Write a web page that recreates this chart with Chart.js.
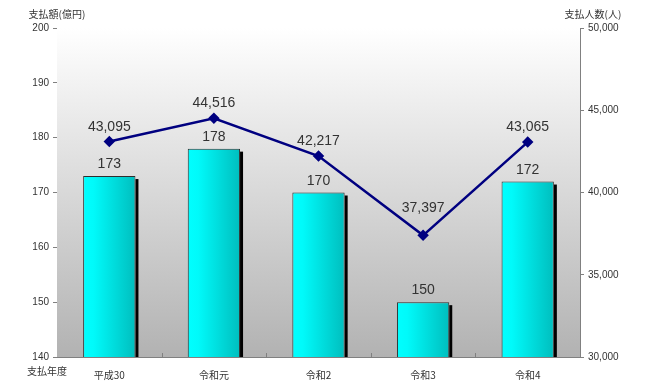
<!DOCTYPE html>
<html><head><meta charset="utf-8">
<script src="https://cdn.jsdelivr.net/npm/chart.js@4/dist/chart.umd.min.js"></script>
<style>html,body{margin:0;padding:0;background:#fff}canvas{display:block}</style>
</head><body>
<canvas id="c" width="652" height="386"></canvas>
<script>
const categories = ['平成30', '令和元', '令和2', '令和3', '令和4'];
const amounts = [173, 178, 170, 150, 172];
const persons = [43095, 44516, 42217, 37397, 43065];
const leftTitle = '支払額(億円)';
const rightTitle = '支払人数(人)';
const xTitle = '支払年度';

const JP = '"Noto Sans CJK JP", "Liberation Sans", sans-serif';
const NUM = '"Liberation Sans", "Noto Sans CJK JP", sans-serif';

const bgPlugin = {
  id: 'bg',
  beforeDatasetsDraw(chart) {
    const {ctx, chartArea: a} = chart;
    const g = ctx.createLinearGradient(0, a.top, 0, a.bottom);
    g.addColorStop(0, '#ffffff');
    g.addColorStop(1, '#b2b2b2');
    ctx.save();
    ctx.fillStyle = g;
    ctx.fillRect(a.left, a.top, a.right - a.left, a.bottom - a.top);
    const xs = chart.scales.x;
    ctx.strokeStyle = '#808080';
    ctx.lineWidth = 1;
    for (let i = 1; i < categories.length; i++) {
      const px = Math.round((xs.getPixelForValue(i - 1) + xs.getPixelForValue(i)) / 2) + 0.5;
      ctx.beginPath();
      ctx.moveTo(px, a.bottom);
      ctx.lineTo(px, a.bottom - 4);
      ctx.stroke();
    }
    const meta = chart.getDatasetMeta(0);
    ctx.fillStyle = '#000000';
    meta.data.forEach(el => {
      const p = el.getProps(['x', 'y', 'base', 'width'], true);
      const bottom = Math.min(p.base, a.bottom);
      ctx.fillRect(p.x + p.width / 2, p.y + 3, 3, bottom - p.y - 3);
    });
    ctx.restore();
  },
  afterDraw(chart) {
    const {ctx} = chart;
    ctx.save();
    ctx.fillStyle = '#333333';
    ctx.font = '10px ' + JP;
    ctx.textBaseline = 'middle';
    ctx.textAlign = 'center';
    ctx.fillText(leftTitle, 57, 14);
    ctx.fillText(rightTitle, 593, 14);
    ctx.fillText(xTitle, 47, 371);
    ctx.font = '14px ' + NUM;
    ctx.textBaseline = 'alphabetic';
    const m0 = chart.getDatasetMeta(0);
    m0.data.forEach((el, i) => {
      ctx.fillText(String(amounts[i]), el.x, el.y - 8);
    });
    const lift = [11, 11, 11, 23, 11];
    const m1 = chart.getDatasetMeta(1);
    m1.data.forEach((el, i) => {
      ctx.fillText(persons[i].toLocaleString('en-US'), el.x, el.y - lift[i]);
    });
    ctx.restore();
  }
};

new Chart(document.getElementById('c'), {
  data: {
    labels: categories,
    datasets: [
      {
        type: 'bar',
        data: amounts,
        yAxisID: 'y',
        order: 2,
        barPercentage: 0.5,
        categoryPercentage: 1,
        borderColor: '#2e2e2e',
        borderWidth: 1,
        backgroundColor(c) {
          const chart = c.chart;
          if (!chart.chartArea || c.dataIndex === undefined) return '#00ffff';
          const xs = chart.scales.x;
          const cx = xs.getPixelForValue(c.dataIndex);
          const w = xs.width / categories.length * 0.5;
          const g = chart.ctx.createLinearGradient(cx - w / 2, 0, cx + w / 2, 0);
          g.addColorStop(0, '#00ffff');
          g.addColorStop(0.2, '#00fafa');
          g.addColorStop(1, '#00bebe');
          return g;
        }
      },
      {
        type: 'line',
        data: persons,
        yAxisID: 'y2',
        order: 1,
        borderColor: '#000080',
        borderWidth: 2.5,
        pointStyle: 'rectRot',
        pointRadius: 4,
        pointBackgroundColor: '#000080',
        pointBorderColor: '#000080',
        tension: 0
      }
    ]
  },
  options: {
    responsive: false,
    animation: false,
    layout: {padding: {top: 28, left: 0, right: 0, bottom: 0}},
    plugins: {legend: {display: false}, tooltip: {enabled: false}},
    scales: {
      x: {
        offset: true,
        grid: {display: false, drawOnChartArea: false},
        border: {display: true, color: '#808080'},
        ticks: {color: '#333', font: {size: 10, family: JP}, padding: 4, maxRotation: 0},
        afterFit(s) { s.height = 29; }
      },
      y: {
        position: 'left',
        min: 140, max: 200,
        ticks: {stepSize: 10, color: '#333', font: {size: 10, family: NUM}, padding: 4},
        grid: {drawOnChartArea: false, tickLength: 4, color: '#808080'},
        border: {display: true, color: '#808080'},
        afterFit(s) { s.width = 57; }
      },
      y2: {
        position: 'right',
        min: 30000, max: 50000,
        ticks: {stepSize: 5000, color: '#333', font: {size: 10, family: NUM}, padding: 4,
          callback: v => v.toLocaleString('en-US')},
        grid: {drawOnChartArea: false, tickLength: 4, color: '#808080'},
        border: {display: true, color: '#808080'},
        afterFit(s) { s.width = 72; }
      }
    }
  },
  plugins: [bgPlugin]
});
</script>
</body></html>
